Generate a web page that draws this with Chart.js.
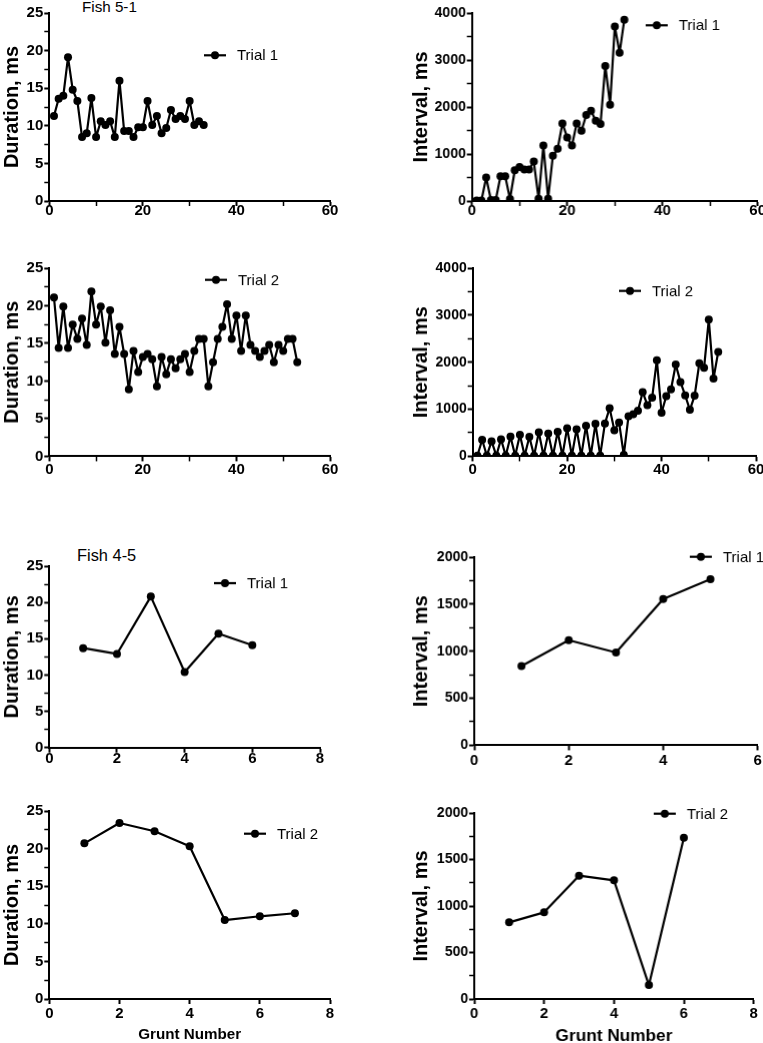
<!DOCTYPE html>
<html>
<head>
<meta charset="utf-8">
<script src="https://cdn.jsdelivr.net/npm/chart.js@4.4.0/dist/chart.umd.min.js"></script>
<style>
html, body { margin: 0; padding: 0; background: #fff; overflow: hidden; }
body { width: 763px; height: 1043px; position: relative; font-family: "Liberation Sans", Arial, sans-serif; }
.panel { position: absolute; }
.fish { position: absolute; white-space: nowrap; color: #000; }
</style>
</head>
<body>
<div class="fish" style="left:82px; top:-1.5px; font-size:15.2px; line-height:15.2px;">Fish 5-1</div>
<div class="fish" style="left:77px; top:547px; font-size:16.4px; line-height:16.4px;">Fish 4-5</div>

<script>
// --- DATA ---
// Fish 5-1 (grunt number = position in array, starting at 1)
const durFish51Trial1 = [11.3, 13.6, 14.0, 19.1, 14.8, 13.3, 8.5, 9.0, 13.7, 8.5, 10.6, 10.1, 10.6, 8.5, 16.0, 9.3, 9.3, 8.5, 9.8, 9.8, 13.3, 10.1, 11.3, 9.0, 9.7, 12.1, 10.9, 11.3, 10.9, 13.3, 10.1, 10.6, 10.1];
const intFish51Trial1 = [10, 10, 498, 20, 20, 527, 527, 43, 655, 726, 669, 669, 840, 50, 1181, 50, 961, 1110, 1651, 1352, 1181, 1651, 1495, 1829, 1922, 1708, 1637, 2875, 2050, 3715, 3153, 3858];
const durFish51Trial2 = [21.1, 14.4, 19.9, 14.4, 17.5, 15.6, 18.3, 14.8, 21.9, 17.5, 19.9, 15.1, 19.4, 13.6, 17.2, 13.6, 8.9, 14.0, 11.2, 13.2, 13.6, 12.9, 9.3, 13.2, 10.9, 12.9, 11.7, 12.9, 13.6, 11.2, 14.0, 15.6, 15.6, 9.3, 12.5, 15.6, 17.2, 20.2, 15.6, 18.7, 14.0, 18.7, 14.8, 14.0, 13.2, 14.0, 14.8, 12.5, 14.8, 14.0, 15.6, 15.6, 12.5];
const intFish51Trial2 = [15, 349, 15, 320, 15, 363, 15, 420, 15, 455, 15, 413, 15, 512, 15, 484, 15, 520, 15, 598, 15, 576, 15, 648, 15, 690, 15, 697, 1025, 555, 719, 30, 854, 897, 968, 1366, 1089, 1245, 2043, 925, 1281, 1423, 1950, 1580, 1295, 989, 1288, 1978, 1879, 2904, 1651, 2220];
// Fish 4-5
const durFish45Trial1 = [13.7, 12.9, 20.8, 10.4, 15.7, 14.1];
const intFish45Trial1 = [843, 1117, 986, 1555, 1765];
const durFish45Trial2 = [20.7, 23.4, 22.3, 20.3, 10.5, 11.0, 11.4];
const intFish45Trial2 = [824, 932, 1326, 1276, 150, 1735];

const trialLabels = ['Trial 1', 'Trial 2'];
const durationTitle = 'Duration, ms';
const intervalTitle = 'Interval, ms';
const xTitle = 'Grunt Number';

// --- PANELS (plot box in page pixels) ---
const panels = [
  { values: durFish51Trial1, trial: 0, yTitle: durationTitle, col: 0,   L: 49.3,  R: 330,   T: 12.7,  B: 200.7, xPad: -4, xMax: 60, xStep: 10, xMajor: 20, yMax: 25,   yStep: 2.5, yMajor: 5,    leg: [204, 55] },
  { values: intFish51Trial1, trial: 0, yTitle: intervalTitle, col: 400, L: 471.7, R: 756.7, T: 12.7,  B: 200.7, xPad: -4, xMax: 60, xStep: 10, xMajor: 20, yMax: 4000, yStep: 500, yMajor: 1000, leg: [645, 25] },
  { values: durFish51Trial2, trial: 1, yTitle: durationTitle, col: 0,   L: 49.3,  R: 330,   T: 268.3, B: 455.7, xPad: -1, xMax: 60, xStep: 10, xMajor: 20, yMax: 25,   yStep: 2.5, yMajor: 5,    leg: [205, 280] },
  { values: intFish51Trial2, trial: 1, yTitle: intervalTitle, col: 400, L: 472.7, R: 756,   T: 268.3, B: 455.7, xPad: -1, xMax: 60, xStep: 10, xMajor: 20, yMax: 4000, yStep: 500, yMajor: 1000, leg: [619, 291] },
  { values: durFish45Trial1, trial: 0, yTitle: durationTitle, col: 0,   L: 49.3,  R: 320,   T: 566,   B: 746.7, xPad: -3, xMax: 8,  xStep: 2,  xMajor: 2,  yMax: 25,   yStep: 2.5, yMajor: 5,    leg: [214, 583] },
  { values: intFish45Trial1, trial: 0, yTitle: intervalTitle, col: 400, L: 474,   R: 756.7, T: 557.3, B: 744.7, xPad: 1,  xMax: 6,  xStep: 2,  xMajor: 2,  yMax: 2000, yStep: 250, yMajor: 500,  leg: [689, 557] },
  { values: durFish45Trial2, trial: 1, yTitle: durationTitle, col: 0,   L: 49.3,  R: 330,   T: 811.3, B: 999.3, xPad: 1,  xMax: 8,  xStep: 2,  xMajor: 2,  yMax: 25,   yStep: 2.5, yMajor: 5,    leg: [244, 834], xTitleSize: 15.2, xTitlePad: 3 },
  { values: intFish45Trial2, trial: 1, yTitle: intervalTitle, col: 400, L: 474,   R: 752.7, T: 813.3, B: 999.3, xPad: 1,  xMax: 8,  xStep: 2,  xMajor: 2,  yMax: 2000, yStep: 250, yMajor: 500,  leg: [653, 814], xTitleSize: 17.2, xTitlePad: 0.5 }
];

// legend drawn inside the plot: short line, dot, label
const trialLegend = {
  id: 'trialLegend',
  afterDraw(chart, args, opts) {
    const ctx = chart.ctx;
    ctx.save();
    ctx.strokeStyle = '#000';
    ctx.fillStyle = '#000';
    ctx.lineWidth = 2.2;
    ctx.beginPath();
    ctx.moveTo(opts.x, opts.y);
    ctx.lineTo(opts.x + 22, opts.y);
    ctx.stroke();
    ctx.beginPath();
    ctx.arc(opts.x + 11, opts.y, 4, 0, Math.PI * 2);
    ctx.fill();
    ctx.font = '15px "Liberation Sans", Arial, sans-serif';
    ctx.textBaseline = 'middle';
    ctx.fillText(opts.text, opts.x + 33, opts.y + 1);
    ctx.restore();
  }
};

function majorOnly(major) {
  return (v) => (Math.abs(v / major - Math.round(v / major)) < 1e-6 ? String(v) : '');
}

panels.forEach((p) => {
  const yw = p.L - p.col;
  const pt = 10;
  const pr = 8;
  const xh = p.xTitleSize ? 48 : 25;

  const div = document.createElement('div');
  div.className = 'panel';
  div.style.left = p.col + 'px';
  div.style.top = (p.T - pt) + 'px';
  div.style.width = (p.R - p.col + pr) + 'px';
  div.style.height = (p.B - p.T + pt + xh) + 'px';
  const canvas = document.createElement('canvas');
  div.appendChild(canvas);
  document.body.appendChild(div);

  const points = p.values.map((v, k) => ({ x: k + 1, y: v }));
  const yLabelSize = p.yMax > 100 ? 14 : 15;

  new Chart(canvas.getContext('2d'), {
    type: 'scatter',
    data: {
      datasets: [{
        label: trialLabels[p.trial],
        data: points,
        showLine: true,
        borderColor: '#000',
        borderWidth: 2.2,
        borderJoinStyle: 'bevel',
        backgroundColor: '#000',
        pointRadius: 4,
        pointBorderWidth: 0,
        pointBackgroundColor: '#000'
      }]
    },
    options: {
      responsive: true,
      maintainAspectRatio: false,
      animation: false,
      layout: { padding: { top: pt, right: pr, left: 0, bottom: 0 } },
      plugins: {
        legend: { display: false },
        tooltip: { enabled: false },
        trialLegend: { x: p.leg[0] - p.col, y: p.leg[1] - (p.T - pt), text: trialLabels[p.trial] }
      },
      scales: {
        x: {
          type: 'linear',
          min: 0,
          max: p.xMax,
          afterFit(scale) { scale.height = xh; },
          border: { display: true, color: '#000', width: 2 },
          grid: {
            drawOnChartArea: false,
            drawTicks: true,
            tickLength: 5,
            tickColor: '#000',
            tickWidth: (c) => (c.tick && Math.abs(c.tick.value % p.xMajor) < 1e-6 ? 2 : 1.5)
          },
          ticks: {
            stepSize: p.xStep,
            autoSkip: false,
            maxRotation: 0,
            padding: p.xPad,
            color: '#000',
            font: { family: '"Liberation Sans", Arial, sans-serif', size: 15, weight: 'bold' },
            callback: majorOnly(p.xMajor)
          },
          title: {
            display: !!p.xTitleSize,
            text: xTitle,
            color: '#000',
            font: { family: '"Liberation Sans", Arial, sans-serif', size: p.xTitleSize || 15, weight: 'bold' },
            padding: { top: 0, bottom: p.xTitlePad || 0 }
          }
        },
        y: {
          type: 'linear',
          min: 0,
          max: p.yMax,
          afterFit(scale) { scale.width = yw; },
          border: { display: true, color: '#000', width: 2 },
          grid: {
            drawOnChartArea: false,
            drawTicks: true,
            tickLength: 5,
            tickColor: '#000',
            tickWidth: (c) => (c.tick && Math.abs(c.tick.value % p.yMajor) < 1e-6 ? 2 : 1.5)
          },
          ticks: {
            stepSize: p.yStep,
            autoSkip: false,
            padding: 1,
            color: '#000',
            font: { family: '"Liberation Sans", Arial, sans-serif', size: yLabelSize, weight: 'bold' },
            callback: majorOnly(p.yMajor)
          },
          title: {
            display: true,
            text: p.yTitle,
            color: '#000',
            font: { family: '"Liberation Sans", Arial, sans-serif', size: 20, weight: 'bold' },
            padding: { top: p.col ? 9 : 0, bottom: 0 }
          }
        }
      }
    },
    plugins: [trialLegend]
  });
});
</script>
</body>
</html>
